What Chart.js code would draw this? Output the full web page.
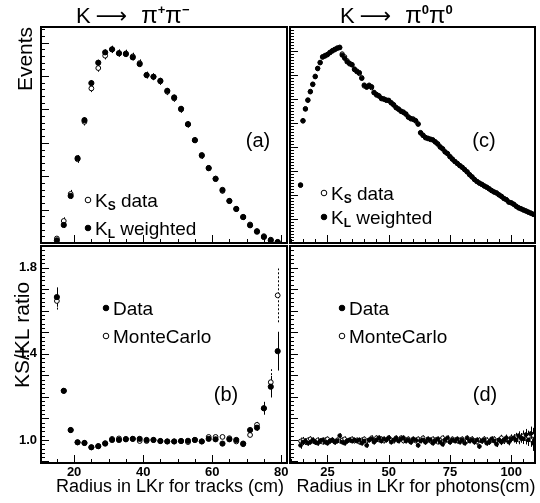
<!DOCTYPE html>
<html>
<head>
<meta charset="utf-8">
<script src="https://cdn.jsdelivr.net/npm/chart.js@4.4.1/dist/chart.umd.min.js"></script>
<style>
  body { margin: 0; background: #fff; }
  #fig { position: relative; width: 540px; height: 503px; }
  #fig canvas { position: absolute; left: 0; top: 0; }
</style>
</head>
<body>
<div id="fig">
  <canvas id="tracksChart" width="540" height="503"></canvas>
  <canvas id="tracksRatioChart" width="540" height="503"></canvas>
  <canvas id="photonsChart" width="540" height="503"></canvas>
  <canvas id="photonsRatioChart" width="540" height="503"></canvas>
</div>
<script>
// K -> pi+ pi- : radius of the tracks in LKr (2 cm bins)
const trackRadius = [15, 17, 19, 21, 23, 25, 27, 29, 31, 33, 35, 37, 39, 41, 43, 45, 47,
  49, 51, 53, 55, 57, 59, 61, 63, 65, 67, 69, 71, 73, 75, 77, 79];
const ksTracks = [135, 660, 1470, 2510, 3630, 4630, 5240, 5610, 5800, 5690, 5680, 5590, 5390,
  5030, 4980, 4840, 4530, 4330, 4000, 3550, 3080, 2610, 2250, 1930, 1560, 1260, 1020, 770, 555,
  360, 205, 100, 35];
const klTracks = [80, 540, 1410, 2540, 3680, 4790, 5400, 5710, 5800, 5680, 5660, 5560, 5360,
  5030, 4980, 4860, 4560, 4360, 4020, 3560, 3080, 2630, 2240, 1920, 1590, 1260, 1020, 780, 530,
  340, 180, 80, 25];
const ksTracksErr = [60, 110, 120, 110, 110, 110, 110, 110, 110, 110, 110, 110, 110, 105, 105,
  105, 100, 100, 100, 95, 90, 90, 85, 80, 75, 70, 65, 60, 55, 50, 45, 40, 30];
const klTracksErr = [40, 90, 90, 90, 90, 90, 90, 90, 90, 90, 90, 90, 90, 85, 85, 85, 80, 80,
  80, 75, 70, 70, 65, 60, 55, 50, 50, 45, 40, 35, 30, 25, 20];

// KS/KL ratio vs track radius
const ratioTracksData = [1.663, 1.228, 1.046, 0.989, 0.986, 0.966, 0.971, 0.983, 1.0, 1.0,
  1.003, 1.005, 1.005, 1.0, 1.0, 0.995, 0.993, 0.993, 0.995, 0.996, 1.0, 0.993, 1.005, 1.003,
  0.983, 1.003, 1.0, 0.983, 1.046, 1.057, 1.147, 1.247, 1.412];
const ratioTracksMC = [1.645, 1.228, 1.046, 0.989, 0.986, 0.966, 0.971, 0.985, 1.005, 1.007,
  1.005, 1.005, 0.995, 0.995, 1.0, 0.995, 0.993, 0.993, 0.995, 0.99, 1.0, 0.993, 1.014, 1.014,
  1.014, 1.008, 0.993, 0.98, 1.023, 1.07, 1.147, 1.268, 1.671];
const ratioTracksDataErr = [0.045, 0.01, 0.007, 0.005, 0.004, 0.004, 0.004, 0.004, 0.004,
  0.004, 0.004, 0.004, 0.004, 0.004, 0.004, 0.004, 0.004, 0.004, 0.004, 0.004, 0.004, 0.004,
  0.005, 0.005, 0.005, 0.006, 0.006, 0.007, 0.012, 0.015, 0.03, 0.05, 0.09];
const ratioTracksMCErr = [0.04, 0.01, 0.007, 0.005, 0.004, 0.004, 0.004, 0.004, 0.004,
  0.004, 0.004, 0.004, 0.004, 0.004, 0.004, 0.004, 0.004, 0.004, 0.004, 0.004, 0.004, 0.004,
  0.005, 0.005, 0.005, 0.006, 0.006, 0.007, 0.01, 0.014, 0.025, 0.06, 0.125];

// K -> pi0 pi0 : radius of the photons in LKr (1 cm bins)
const photonRadius = [
  14, 15, 16, 17, 18, 19, 20, 21, 22, 23,
  24, 25, 26, 27, 28, 29, 30, 31, 32, 33,
  34, 35, 36, 37, 38, 39, 40, 41, 42, 43,
  44, 45, 46, 47, 48, 49, 50, 51, 52, 53,
  54, 55, 56, 57, 58, 59, 60, 61, 62, 63,
  64, 65, 66, 67, 68, 69, 70, 71, 72, 73,
  74, 75, 76, 77, 78, 79, 80, 81, 82, 83,
  84, 85, 86, 87, 88, 89, 90, 91, 92, 93,
  94, 95, 96, 97, 98, 99, 100, 101, 102, 103,
  104, 105, 106, 107, 108, 109, 110];
const ksPhotons = [
  2400, 5080, 5600, 5940, 6320, 6600, 6950, 7260, 7530, 7740,
  7820, 7840, 7950, 8020, 8050, 8130, 8160, 7880, 7760, 7600,
  7460, 7440, 7220, 7170, 7060, 6890, 6540, 6520, 6580, 6470,
  6280, 6160, 6140, 6010, 6010, 5940, 5950, 5830, 5770, 5630,
  5590, 5480, 5460, 5360, 5260, 5170, 5170, 5080, 4970, 4580,
  4500, 4380, 4370, 4310, 4300, 4200, 4140, 3990, 3930, 3790,
  3730, 3590, 3500, 3390, 3320, 3220, 3160, 3050, 2970, 2840,
  2760, 2640, 2570, 2490, 2450, 2370, 2330, 2250, 2190, 2120,
  2090, 2000, 1950, 1850, 1810, 1700, 1680, 1610, 1540, 1460,
  1430, 1370, 1340, 1280, 1250, 1190, 1180];
const klPhotons = [
  2420, 5100, 5580, 5960, 6300, 6620, 6930, 7280, 7510, 7760,
  7790, 7860, 7930, 8000, 8070, 8110, 8140, 7830, 7700, 7550,
  7490, 7420, 7250, 7140, 7100, 6860, 6580, 6490, 6550, 6510,
  6260, 6190, 6120, 6030, 5990, 5960, 5930, 5850, 5750, 5650,
  5570, 5500, 5440, 5380, 5240, 5190, 5150, 5100, 4950, 4600,
  4480, 4400, 4350, 4330, 4290, 4220, 4120, 4010, 3920, 3800,
  3720, 3600, 3490, 3400, 3310, 3230, 3150, 3060, 2960, 2850,
  2750, 2650, 2560, 2500, 2440, 2380, 2320, 2260, 2180, 2130,
  2080, 2010, 1940, 1860, 1800, 1710, 1670, 1620, 1530, 1470,
  1420, 1380, 1330, 1290, 1240, 1200, 1170];

// KS/KL ratio vs photon radius
const ratioPhotonsData = [
  0.975, 0.99, 0.995, 0.985, 0.99, 1.0, 0.99, 0.985, 0.995, 1.0,
  0.99, 0.985, 0.995, 1.0, 0.99, 0.995, 1.02, 0.99, 0.985, 0.995,
  1.0, 0.995, 1.0, 0.995, 1.0, 0.985, 0.995, 0.975, 1.0, 1.005,
  0.99, 1.0, 1.01, 0.995, 1.005, 1.0, 1.01, 0.99, 1.0, 1.01,
  0.995, 1.005, 1.01, 0.995, 1.0, 0.99, 1.005, 1.0, 0.975, 0.995,
  1.0, 0.99, 1.005, 1.0, 0.985, 0.995, 1.005, 0.99, 0.98, 1.0,
  1.01, 0.99, 1.0, 0.995, 1.005, 0.99, 1.0, 0.985, 1.01, 0.995,
  1.0, 0.99, 1.0, 0.97, 0.995, 1.0, 0.985, 0.99, 1.005, 0.995,
  0.98, 1.0, 0.99, 1.0, 1.01, 0.99, 1.005, 1.01, 1.0, 1.02,
  1.01, 1.005, 1.025, 1.0, 1.03, 0.985, 1.04];
const ratioPhotonsMC = [
  0.995, 1.0, 0.99, 1.0, 1.005, 0.995, 0.99, 1.0, 0.995, 0.99,
  1.0, 1.005, 0.995, 1.0, 0.99, 1.0, 0.995, 1.0, 1.005, 0.995,
  1.0, 1.005, 0.995, 1.0, 0.99, 1.0, 1.005, 0.995, 1.0, 1.01,
  0.995, 1.01, 1.0, 1.005, 0.995, 1.0, 1.01, 1.0, 0.995, 1.005,
  1.0, 1.01, 0.995, 1.0, 1.005, 0.99, 1.0, 0.995, 1.005, 1.0,
  1.01, 0.99, 1.0, 0.995, 1.005, 1.0, 0.99, 1.0, 1.01, 0.995,
  1.0, 0.99, 1.005, 1.0, 0.995, 1.0, 1.005, 0.99, 0.995, 1.0,
  1.005, 0.995, 0.99, 1.0, 0.995, 1.005, 1.0, 0.99, 1.0, 1.005,
  0.995, 1.0, 1.01, 0.995, 1.005, 1.0, 1.01, 1.005, 1.015, 1.0,
  1.01, 1.02, 1.005, 1.015, 1.0, 1.02, 1.01];
const ratioPhotonsErr = [
  0.016, 0.014, 0.013, 0.012, 0.012, 0.012, 0.012, 0.012, 0.012, 0.012,
  0.011, 0.011, 0.011, 0.011, 0.011, 0.011, 0.011, 0.011, 0.011, 0.011,
  0.011, 0.011, 0.011, 0.011, 0.011, 0.011, 0.011, 0.011, 0.011, 0.011,
  0.011, 0.011, 0.011, 0.011, 0.011, 0.011, 0.011, 0.011, 0.011, 0.011,
  0.011, 0.011, 0.011, 0.011, 0.011, 0.011, 0.011, 0.011, 0.011, 0.011,
  0.011, 0.011, 0.011, 0.011, 0.011, 0.011, 0.011, 0.011, 0.011, 0.011,
  0.011, 0.011, 0.011, 0.011, 0.011, 0.011, 0.011, 0.011, 0.011, 0.011,
  0.012, 0.012, 0.012, 0.012, 0.012, 0.012, 0.012, 0.012, 0.012, 0.012,
  0.013, 0.013, 0.014, 0.014, 0.015, 0.015, 0.016, 0.017, 0.018, 0.02,
  0.022, 0.024, 0.026, 0.028, 0.032, 0.036, 0.04];

// labelled ticks
const trackTickLabels = [20, 40, 60, 80];
const photonTickLabels = [25, 50, 75, 100];
const ratioTickLabels = [1.0, 1.4, 1.8];

const FONT = '"Liberation Sans", Arial, sans-serif';

function points(xs, ys) {
  return xs.map((x, i) => ({ x: x, y: ys[i] }));
}

// text made of pieces (sub/superscripts), each with its own font and offset
function drawRich(ctx, x, y, parts) {
  ctx.textAlign = 'left';
  ctx.textBaseline = 'alphabetic';
  parts.forEach(p => {
    x += p.dx || 0;
    ctx.font = p.font;
    ctx.fillText(p.t, x, y + (p.dy || 0));
    x += ctx.measureText(p.t).width;
  });
}

function marker(ctx, x, y, r, filled) {
  ctx.beginPath();
  ctx.arc(x, y, r, 0, Math.PI * 2);
  ctx.fillStyle = filled ? '#000' : '#fff';
  ctx.fill();
  ctx.lineWidth = 1;
  ctx.strokeStyle = '#000';
  ctx.stroke();
}

// error bars, frame, inward ticks, tick labels and the texts of each pad
const panelDecor = {
  id: 'panelDecor',
  beforeDatasetsDraw(chart) {
    const { ctx, chartArea: a, scales: { x, y } } = chart;
    ctx.save();
    ctx.beginPath();
    ctx.rect(a.left, a.top, a.right - a.left, a.bottom - a.top);
    ctx.clip();
    ctx.strokeStyle = '#000';
    ctx.lineWidth = 1;
    chart.data.datasets.forEach(ds => {
      if (!ds.errors) return;
      ctx.setLineDash(ds.errorDash || []);
      ds.data.forEach((p, i) => {
        const e = ds.errors[i];
        if (!e) return;
        const px = Math.round(x.getPixelForValue(p.x)) + 0.5;
        ctx.beginPath();
        ctx.moveTo(px, y.getPixelForValue(p.y - e));
        ctx.lineTo(px, y.getPixelForValue(p.y + e));
        ctx.stroke();
      });
    });
    ctx.restore();
  },
  afterDraw(chart, args, o) {
    const { ctx, chartArea: a, scales: { x, y } } = chart;
    ctx.save();
    ctx.strokeStyle = '#000';
    ctx.fillStyle = '#000';

    ctx.lineWidth = 1;
    for (let k = Math.ceil(x.min / o.xMinor); k * o.xMinor <= x.max; k++) {
      const v = k * o.xMinor;
      const major = Math.abs(v / o.xMajor - Math.round(v / o.xMajor)) < 1e-6;
      const px = Math.round(x.getPixelForValue(v)) + 0.5;
      ctx.beginPath();
      ctx.moveTo(px, a.bottom);
      ctx.lineTo(px, a.bottom - (major ? 8 : 4));
      ctx.stroke();
    }
    for (let k = Math.ceil(y.min / o.yMinor - 1e-6); k * o.yMinor <= y.max; k++) {
      const v = k * o.yMinor;
      const major = Math.abs(v / o.yMajor - Math.round(v / o.yMajor)) < 1e-6;
      const py = Math.round(y.getPixelForValue(v)) + 0.5;
      ctx.beginPath();
      ctx.moveTo(a.left, py);
      ctx.lineTo(a.left + (major ? 8 : 4), py);
      ctx.stroke();
    }

    ctx.lineWidth = 2;
    ctx.strokeRect(a.left, a.top, a.right - a.left, a.bottom - a.top);

    ctx.font = 'bold 13px ' + FONT;
    if (o.xLabels) {
      ctx.textAlign = 'center';
      ctx.textBaseline = 'middle';
      o.xLabels.forEach(v => ctx.fillText(String(v), x.getPixelForValue(v), a.bottom + 9));
    }
    if (o.yLabels) {
      ctx.textAlign = 'right';
      ctx.textBaseline = 'middle';
      o.yLabels.forEach(v => ctx.fillText(v.toFixed(1), a.left - 4, y.getPixelForValue(v)));
    }

    (o.texts || []).forEach(t => {
      ctx.save();
      ctx.translate(t.x, t.y);
      if (t.rotate) ctx.rotate(t.rotate);
      ctx.font = t.font;
      ctx.textAlign = 'center';
      ctx.textBaseline = 'middle';
      ctx.fillText(t.t, 0, 0);
      ctx.restore();
    });
    (o.rich || []).forEach(r => drawRich(ctx, r.x, r.y, r.parts));
    (o.keys || []).forEach(k => {
      marker(ctx, k.x, k.y, 2.8, k.filled);
      ctx.fillStyle = '#000';
      drawRich(ctx, k.x + 7, k.y + 7, k.parts);
    });
    ctx.restore();
  }
};

const filledStyle = { pointStyle: 'circle', backgroundColor: '#000', borderColor: '#000', borderWidth: 1 };
const openStyle = { pointStyle: 'circle', backgroundColor: '#fff', borderColor: '#000', borderWidth: 1 };

function makePanel(id, datasets, xr, yr, pad, decor) {
  return new Chart(document.getElementById(id), {
    type: 'scatter',
    data: { datasets: datasets },
    options: {
      responsive: false,
      animation: false,
      events: [],
      layout: { padding: pad },
      scales: {
        x: { type: 'linear', min: xr[0], max: xr[1], display: false },
        y: { type: 'linear', min: yr[0], max: yr[1], display: false }
      },
      plugins: {
        legend: { display: false },
        tooltip: { enabled: false },
        panelDecor: decor
      }
    },
    plugins: [panelDecor]
  });
}

const big = '21px ' + FONT;
const sub = 'bold 12px ' + FONT;
const ksKey = [{ t: 'K', font: '19px ' + FONT }, { t: 'S', font: sub, dy: 3 }, { t: ' data', font: '19px ' + FONT }];
const klKey = [{ t: 'K', font: '19px ' + FONT }, { t: 'L', font: sub, dy: 3 }, { t: ' weighted', font: '19px ' + FONT }];
const dataKey = [{ t: 'Data', font: '19px ' + FONT }];
const mcKey = [{ t: 'MonteCarlo', font: '19px ' + FONT }];

// (a) events vs track radius
makePanel('tracksChart', [
  Object.assign({ data: points(trackRadius, klTracks), errors: klTracksErr, pointRadius: 2.6 }, filledStyle),
  Object.assign({ data: points(trackRadius, ksTracks), errors: ksTracksErr, pointRadius: 2.4 }, openStyle)
], [10.4, 81.7], [0, 6470], { left: 41, top: 27, right: 253, bottom: 260 }, {
  xMajor: 20, xMinor: 5, yMajor: 1000, yMinor: 200,
  texts: [
    { t: 'Events', x: 26, y: 59, rotate: -Math.PI / 2, font: big },
    { t: '(a)', x: 258, y: 141, font: '20px ' + FONT }
  ],
  rich: [{ x: 76, y: 23, parts: [
    { t: 'K', font: '22px ' + FONT },
    { t: '⟶', font: '22px "DejaVu Sans", ' + FONT, dx: 5 },
    { t: 'π', font: '24px ' + FONT, dx: 14 },
    { t: '+', font: 'bold 13px ' + FONT, dy: -9 },
    { t: 'π', font: '24px ' + FONT },
    { t: '−', font: 'bold 13px ' + FONT, dy: -9 }
  ] }],
  keys: [
    { x: 88, y: 200, filled: false, parts: ksKey },
    { x: 88, y: 228, filled: true, parts: klKey }
  ]
});

// (b) KS/KL ratio vs track radius
makePanel('tracksRatioChart', [
  Object.assign({ data: points(trackRadius, ratioTracksData), errors: ratioTracksDataErr, pointRadius: 2.6 }, filledStyle),
  Object.assign({ data: points(trackRadius, ratioTracksMC), errors: ratioTracksMCErr, errorDash: [2, 2], pointRadius: 2.4 }, openStyle)
], [10.4, 81.7], [0.893, 1.9], { left: 41, top: 246, right: 253, bottom: 40 }, {
  xMajor: 20, xMinor: 5, yMajor: 0.1, yMinor: 0.02,
  xLabels: trackTickLabels, yLabels: ratioTickLabels,
  texts: [
    { t: 'KS/KL ratio', x: 23, y: 335, rotate: -Math.PI / 2, font: big },
    { t: '(b)', x: 226, y: 395, font: '20px ' + FONT },
    { t: 'Radius in LKr for tracks (cm)', x: 170, y: 487, font: '18px ' + FONT }
  ],
  keys: [
    { x: 106, y: 308, filled: true, parts: dataKey },
    { x: 106, y: 336, filled: false, parts: mcKey }
  ]
});

// (c) events vs photon radius
makePanel('photonsChart', [
  Object.assign({ data: points(photonRadius, klPhotons), pointRadius: 2.2 }, filledStyle),
  Object.assign({ data: points(photonRadius, ksPhotons), pointRadius: 2.1 }, openStyle)
], [9.7, 109.7], [0, 9000], { left: 290, top: 27, right: 4, bottom: 260 }, {
  xMajor: 25, xMinor: 5, yMajor: 1000, yMinor: 125,
  texts: [{ t: '(c)', x: 484, y: 141, font: '20px ' + FONT }],
  rich: [{ x: 340, y: 23, parts: [
    { t: 'K', font: '22px ' + FONT },
    { t: '⟶', font: '22px "DejaVu Sans", ' + FONT, dx: 5 },
    { t: 'π', font: '24px ' + FONT, dx: 14 },
    { t: '0', font: 'bold 13px ' + FONT, dy: -9 },
    { t: 'π', font: '24px ' + FONT },
    { t: '0', font: 'bold 13px ' + FONT, dy: -9 }
  ] }],
  keys: [
    { x: 324, y: 193, filled: false, parts: ksKey },
    { x: 324, y: 217, filled: true, parts: klKey }
  ]
});

// (d) KS/KL ratio vs photon radius
makePanel('photonsRatioChart', [
  Object.assign({ data: points(photonRadius, ratioPhotonsData), errors: ratioPhotonsErr, pointRadius: 1.9 }, filledStyle),
  Object.assign({ data: points(photonRadius, ratioPhotonsMC), errors: ratioPhotonsErr, pointRadius: 1.9 }, openStyle)
], [9.7, 109.7], [0.893, 1.9], { left: 290, top: 246, right: 4, bottom: 40 }, {
  xMajor: 25, xMinor: 5, yMajor: 0.1, yMinor: 0.02,
  xLabels: photonTickLabels,
  texts: [
    { t: '(d)', x: 485, y: 395, font: '20px ' + FONT },
    { t: 'Radius in LKr for photons(cm)', x: 416, y: 487, font: '18px ' + FONT }
  ],
  keys: [
    { x: 342, y: 308, filled: true, parts: dataKey },
    { x: 342, y: 336, filled: false, parts: mcKey }
  ]
});
</script>
</body>
</html>
